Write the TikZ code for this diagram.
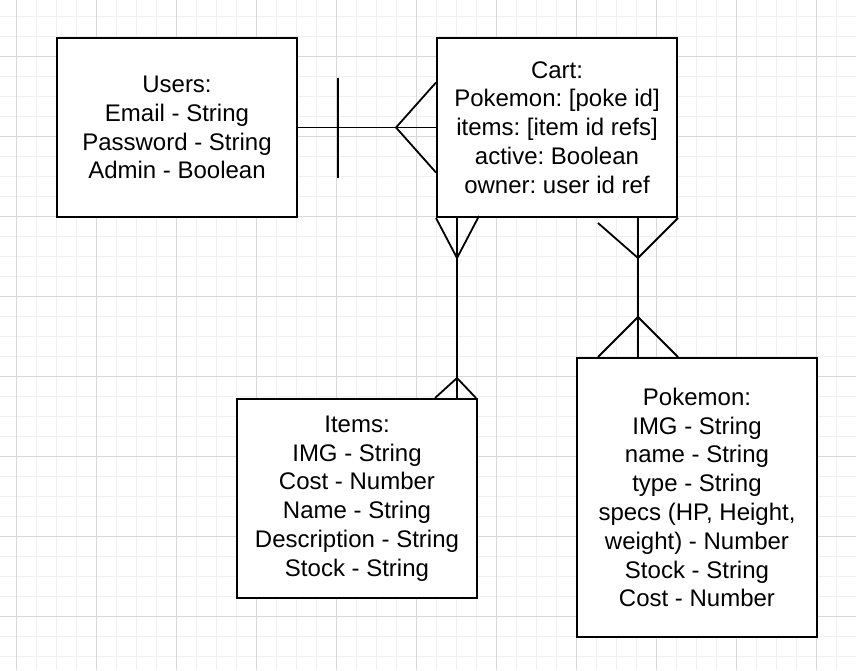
\documentclass[tikz,border=0pt]{standalone}
\usepackage{fontspec}
\setmainfont{Liberation Sans}
\usepackage{xcolor}
\definecolor{gridminor}{HTML}{F0F0F0}
\definecolor{gridmajor}{HTML}{D8D8D8}
\frenchspacing

\begin{document}
\begin{tikzpicture}[x=1pt, y=-1pt,
    entity/.style={draw, line width=2pt, fill=white, minimum width=240pt, align=center,
        font=\fontsize{24}{28.8}\selectfont},
    rel/.style={line width=1.8pt}]
    \useasboundingbox (0,0) rectangle (856,670);
    \fill[white] (0,0) rectangle (856,670);

    % Grid
    \foreach \x in {16.5,36.5,...,856} {
        \draw[gridminor, line width=1pt] (\x,0) -- (\x,670);
    }
    \foreach \y in {16.5,36.5,...,670} {
        \draw[gridminor, line width=1pt] (0,\y) -- (856,\y);
    }
    \foreach \x in {16.5,96.5,...,856} {
        \draw[gridmajor, line width=1pt] (\x,0) -- (\x,670);
    }
    \foreach \y in {56.5,136.5,...,670} {
        \draw[gridmajor, line width=1pt] (0,\y) -- (856,\y);
    }

    % Entities
    \node[entity, minimum height=179pt] (users) at (177,127.5)
        {Users:\\Email - String\\Password - String\\Admin - Boolean};
    \node[entity, minimum height=179pt] (cart) at (557,127.5)
        {Cart:\\Pokemon: [poke id]\\items: [item id refs]\\active: Boolean\\owner: user id ref};
    \node[entity, minimum height=199pt] (items) at (357,498.5)
        {Items:\\IMG - String\\Cost - Number\\Name - String\\Description - String\\Stock - String};
    \node[entity, minimum height=279pt] (pokemon) at (697,497.5)
        {Pokemon:\\IMG - String\\name - String\\type - String\\specs (HP, Height,\\weight) - Number\\Stock - String\\Cost - Number};

    % Users -- Cart
    \draw[rel] (users.east) -- (cart.west);
    \draw[rel] ([xshift=40pt]users.east) ++(0,-50) -- ++(0,100);
    \draw[rel] ([yshift=45pt]cart.west) -- ([xshift=-40pt]cart.west) -- ([yshift=-45pt]cart.west);

    % Cart -- Items
    \coordinate (ci) at ([xshift=21pt]cart.south west);
    \draw[rel] (ci) -- (ci |- items.north);
    \draw[rel] ([xshift=-21pt]ci) -- ([yshift=-40pt]ci) -- ([xshift=22pt,yshift=2pt]ci);
    \coordinate (ic) at (ci |- items.north);
    \draw[rel] ([xshift=-22pt]ic) -- ([yshift=20pt]ic) -- ([xshift=19pt]ic);

    % Cart -- Pokemon
    \coordinate (cp) at ([xshift=-40pt]cart.south east);
    \draw[rel] (cp) -- (cp |- pokemon.north);
    \draw[rel] ([xshift=-40pt,yshift=-5pt]cp) -- ([yshift=-40pt]cp) -- ([xshift=40pt]cp);
    \coordinate (pc) at (cp |- pokemon.north);
    \draw[rel] ([xshift=-40pt]pc) -- ([yshift=40pt]pc) -- ([xshift=40pt]pc);
\end{tikzpicture}
\end{document}
